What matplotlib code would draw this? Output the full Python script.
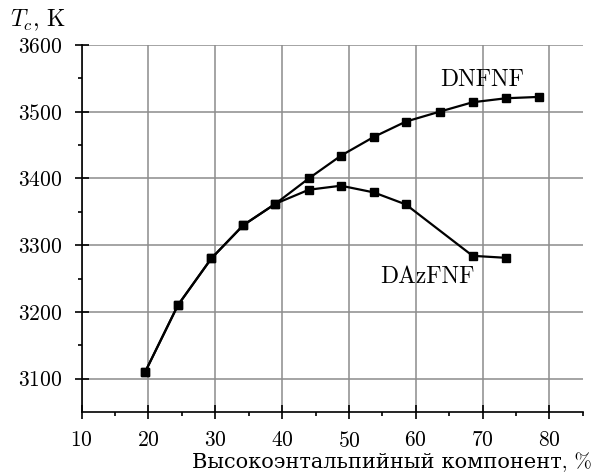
import numpy as np
import matplotlib.pyplot as plt

plt.rcParams['font.family'] = ['cmr10', 'DejaVu Serif']
plt.rcParams['mathtext.fontset'] = 'cm'
plt.rcParams['axes.formatter.use_mathtext'] = True

# high-enthalpy component share, %
x = [19.5, 24.4, 29.4, 34.2, 39.0, 44.0, 48.8, 53.7, 58.5, 63.6, 68.5, 73.5, 78.4]
t_dnfnf = [3110, 3210, 3280, 3330, 3362, 3400, 3434, 3462, 3485, 3500, 3514, 3520, 3522]

x_daz = [19.5, 24.4, 29.4, 34.2, 39.0, 44.0, 48.8, 53.7, 58.5, 68.5, 73.5]
t_dazfnf = [3110, 3210, 3280, 3330, 3362, 3383, 3389, 3379, 3361, 3284, 3281]

fig = plt.figure(figsize=(5.96, 4.72), dpi=100)
ax = fig.add_axes([0.137, 0.127, 0.841, 0.778])

ax.plot(x, t_dnfnf, color="black", lw=1.6, marker="s", ms=6, zorder=3)
ax.plot(x_daz, t_dazfnf, color="black", lw=1.6, marker="s", ms=6, zorder=3)

ax.text(69.9, 3547, "DNFNF", fontsize=17, ha="center", va="center")
ax.text(61.8, 3252, "DAzFNF", fontsize=17, ha="center", va="center")

ax.set_xlim(10, 85)
ax.set_ylim(3050, 3600)
ax.set_xticks(np.arange(10, 81, 10))
ax.set_xticks(np.arange(15, 86, 10), minor=True)
ax.set_yticks(np.arange(3100, 3601, 100))
ax.set_yticks(np.arange(3150, 3551, 100), minor=True)
ax.grid(True, which="major", color="#8c8c8c", lw=1.1)
ax.set_axisbelow(True)

ax.spines["top"].set_visible(False)
ax.spines["right"].set_visible(False)
ax.spines["left"].set_linewidth(1.2)
ax.spines["bottom"].set_linewidth(1.2)
ax.tick_params(which="major", direction="inout", length=10, width=1.2, labelsize=15.5)
ax.tick_params(axis="x", which="major", pad=8.5)
ax.tick_params(axis="y", which="major", pad=9)
ax.tick_params(which="minor", direction="out", length=3, width=1.2)

fig.text(0.993, 0.009, "Высокоэнтальпийный компонент, %", fontsize=15, ha="right", va="baseline")
fig.text(0.017, 0.9434, r"$T_c$, K", fontsize=17, va="baseline")

fig.savefig("out.png", dpi=100)
